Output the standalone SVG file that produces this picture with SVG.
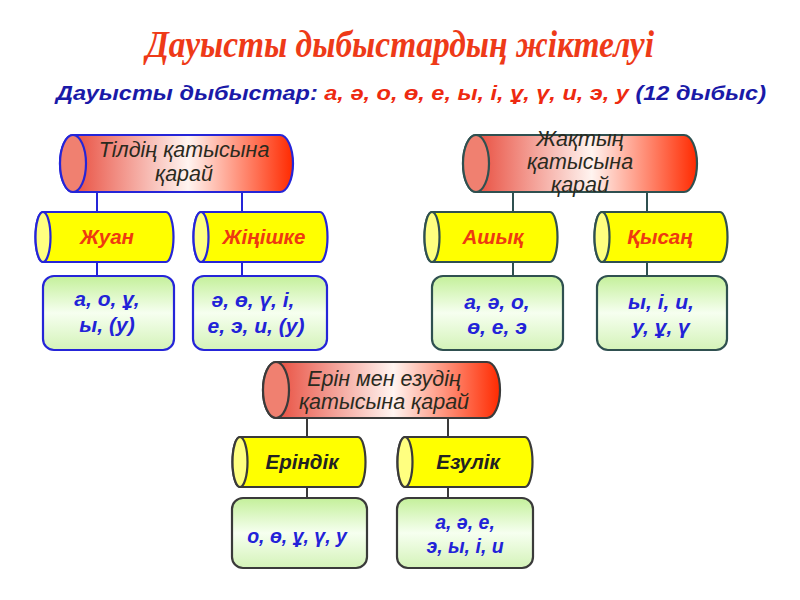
<svg xmlns="http://www.w3.org/2000/svg" width="800" height="600" viewBox="0 0 800 600">
<defs>
<linearGradient id="red" x1="0" y1="0" x2="1" y2="0">
<stop offset="0" stop-color="#e63c2c"/>
<stop offset="0.55" stop-color="#fff4f0"/>
<stop offset="1" stop-color="#ff2a00"/>
</linearGradient>
<linearGradient id="grn" x1="0" y1="0" x2="0" y2="1">
<stop offset="0" stop-color="#c4f09a"/>
<stop offset="0.5" stop-color="#f6fff0"/>
<stop offset="1" stop-color="#d4f3b8"/>
</linearGradient>
<style>
.rb{fill:url(#red);stroke-width:2.2}
.rc{fill:#f08070;stroke-width:2.2}
.yb{fill:#ffff00;stroke-width:2.2}
.yc{fill:#ffff80;stroke-width:2.2}
.gb{fill:url(#grn);stroke-width:2.2}
.s1{stroke:#2525d8}
.s2{stroke:#2f5050}
.s3{stroke:#3a3a3a}
.ln{stroke-width:2;fill:none}
text{font-family:"Liberation Sans",Arial,sans-serif;font-style:italic;text-anchor:middle}
.rt{font-size:21.5px;fill:#2a2a1e}
.yt{font-size:20.5px;font-weight:bold;fill:#ee3a10}
.yt3{font-size:20.5px;font-weight:bold;fill:#222}
.gt{font-size:21px;font-weight:bold;fill:#2222d8}
.gt3{font-size:19.5px;font-weight:bold;fill:#2222d8}
.ttl{font-family:"Liberation Serif","Times New Roman",serif;font-size:38px;font-weight:bold;fill:#ee3a18}
</style>
</defs>
<rect width="800" height="600" fill="#fff"/>
<text class="ttl" x="400" y="57" textLength="508" lengthAdjust="spacingAndGlyphs">Дауысты дыбыстардың жіктелуі</text>
<text x="411" y="100" font-size="20" font-weight="bold" textLength="710" lengthAdjust="spacingAndGlyphs"><tspan fill="#1a1aa8">Дауысты дыбыстар: </tspan><tspan fill="#ee2a10">а, ә, о, ө, е, ы, і, ұ, ү, и, э, у </tspan><tspan fill="#1a1aa8">(12 дыбыс)</tspan></text>

<g id="connectors">
<path class="ln s1" d="M97,192V212M242,192V212M97,262V276M242,262V276"/>
<path class="ln s2" d="M513,192V212M647,192V212M513,262V276M647,262V276"/>
<path class="ln s3" d="M307,418V437M448,418V437M307,487V498M448,487V498"/>
</g>

<g id="tildin">
<path class="rb s1" d="M73,135H280A13,28.5 0 0 1 280,192H73A13,28.5 0 0 1 73,135Z"/>
<ellipse class="rc s1" cx="73" cy="163.5" rx="13" ry="28.5"/>
<text class="rt" x="184" y="157">Тілдің қатысына</text>
<text class="rt" x="184" y="181">қарай</text>
</g>
<g id="zhuan">
<path class="yb s1" d="M43,212H166A7.5,25 0 0 1 166,262H43A7.5,25 0 0 1 43,212Z"/>
<ellipse class="yc s1" cx="43" cy="237" rx="7.5" ry="25"/>
<text class="yt" x="107" y="244">Жуан</text>
</g>
<g id="zhinishke">
<path class="yb s1" d="M201,212H320A7.5,25 0 0 1 320,262H201A7.5,25 0 0 1 201,212Z"/>
<ellipse class="yc s1" cx="201" cy="237" rx="7.5" ry="25"/>
<text class="yt" x="264" y="244">Жіңішке</text>
</g>
<g id="zhuan-list">
<rect class="gb s1" x="43" y="276" width="131" height="74" rx="11"/>
<text class="gt" x="107" y="306">а, о, ұ,</text>
<text class="gt" x="107" y="332">ы, (у)</text>
</g>
<g id="zhinishke-list">
<rect class="gb s1" x="193" y="276" width="134" height="74" rx="11"/>
<text class="gt" x="253" y="307">ә, ө, ү, і,</text>
<text class="gt" x="256" y="333">е, э, и, (у)</text>
</g>

<g id="zhaktyn">
<path class="rb s2" d="M476,135H684A13,28.5 0 0 1 684,192H476A13,28.5 0 0 1 476,135Z"/>
<ellipse class="rc s2" cx="476" cy="163.5" rx="13" ry="28.5"/>
<text class="rt" x="580" y="146">Жақтың</text>
<text class="rt" x="580" y="169">қатысына</text>
<text class="rt" x="580" y="192">қарай</text>
</g>
<g id="ashyk">
<path class="yb s2" d="M432,212H550A7.5,25 0 0 1 550,262H432A7.5,25 0 0 1 432,212Z"/>
<ellipse class="yc s2" cx="432" cy="237" rx="7.5" ry="25"/>
<text class="yt" x="493" y="244">Ашық</text>
</g>
<g id="kysan">
<path class="yb s2" d="M602,212H720A7.5,25 0 0 1 720,262H602A7.5,25 0 0 1 602,212Z"/>
<ellipse class="yc s2" cx="602" cy="237" rx="7.5" ry="25"/>
<text class="yt" x="660" y="244">Қысаң</text>
</g>
<g id="ashyk-list">
<rect class="gb s2" x="432" y="276" width="131" height="74" rx="11"/>
<text class="gt" x="497" y="309">а, ә, о,</text>
<text class="gt" x="497" y="334">ө, е, э</text>
</g>
<g id="kysan-list">
<rect class="gb s2" x="597" y="276" width="130" height="74" rx="11"/>
<text class="gt" x="661" y="309">ы, і, и,</text>
<text class="gt" x="661" y="334">у, ұ, ү</text>
</g>

<g id="erin">
<path class="rb s3" d="M276,362H487A13,28 0 0 1 487,418H276A13,28 0 0 1 276,362Z"/>
<ellipse class="rc s3" cx="276" cy="390" rx="13" ry="28"/>
<text class="rt" x="384" y="386">Ерін мен езудің</text>
<text class="rt" x="384" y="409">қатысына қарай</text>
</g>
<g id="erindik">
<path class="yb s3" d="M240,437H358A7.5,25 0 0 1 358,487H240A7.5,25 0 0 1 240,437Z"/>
<ellipse class="yc s3" cx="240" cy="462" rx="7.5" ry="25"/>
<text class="yt3" x="302" y="469">Еріндік</text>
</g>
<g id="ezulik">
<path class="yb s3" d="M405,437H525A7.5,25 0 0 1 525,487H405A7.5,25 0 0 1 405,437Z"/>
<ellipse class="yc s3" cx="405" cy="462" rx="7.5" ry="25"/>
<text class="yt3" x="468" y="469">Езулік</text>
</g>
<g id="erindik-list">
<rect class="gb s3" x="232" y="498" width="135" height="70" rx="11"/>
<text class="gt3" x="297" y="543">о, ө, ұ, ү, у</text>
</g>
<g id="ezulik-list">
<rect class="gb s3" x="397" y="498" width="136" height="70" rx="11"/>
<text class="gt3" x="465" y="529">а, ә, е,</text>
<text class="gt3" x="465" y="553">э, ы, і, и</text>
</g>
</svg>
